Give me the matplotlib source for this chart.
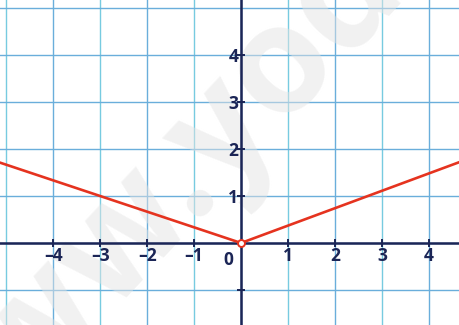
import matplotlib
matplotlib.use("Agg")
import matplotlib.pyplot as plt

# Graph of the piecewise-linear function (V shape through the origin)
x_left = [-5.2, 0.0]
y_left = [1.733, 0.0]
x_right = [0.0, 4.7]
y_right = [0.0, 1.74]

x_ticks = [-4, -3, -2, -1, 1, 2, 3, 4]
x_labels = ["\u20134", "\u20133", "\u20132", "\u20131", "1", "2", "3", "4"]
y_ticks = [-1, 1, 2, 3, 4]
y_labels = ["", "1", "2", "3", "4"]
grid_x = [-5, -4, -3, -2, -1, 0, 1, 2, 3, 4]
grid_y = [-1, 0, 1, 2, 3, 4, 5]

navy = "#1b2556"
red = "#e5331f"
grid_c1 = "#6aaedb"
grid_c2 = "#77cbe0"

fig = plt.figure(figsize=(4.6, 3.25), dpi=100)
ax = fig.add_axes([0, 0, 1, 1])
ax.set_xlim(-5.13, 4.66)
ax.set_ylim(-1.745, 5.17)

# graph-paper grid
for gx in grid_x:
    ax.axvline(gx, color=grid_c1 if gx % 2 == 0 else grid_c2, lw=1.0, zorder=1)
for gy in grid_y:
    ax.axhline(gy, color=grid_c1, lw=1.0, zorder=1)

# axes through the origin
for s in ["top", "right"]:
    ax.spines[s].set_visible(False)
ax.spines["left"].set_position(("data", 0))
ax.spines["bottom"].set_position(("data", 0))
for s in ["left", "bottom"]:
    ax.spines[s].set_color(navy)
    ax.spines[s].set_linewidth(1.8)
    ax.spines[s].set_zorder(3)

ax.set_xticks(x_ticks)
ax.set_xticklabels(x_labels)
ax.set_yticks(y_ticks)
ax.set_yticklabels(y_labels)
font = dict(family="Open Sans", weight="bold", size=12.5)
for lab in ax.get_xticklabels() + ax.get_yticklabels():
    lab.set_fontfamily(font["family"])
    lab.set_fontweight(font["weight"])
    lab.set_fontsize(font["size"])
    lab.set_color(navy)
ax.tick_params(axis="both", direction="inout", length=6, width=1.4, color=navy)
ax.tick_params(axis="x", pad=0)
ax.tick_params(axis="y", pad=-1)
ax.xaxis.set_zorder(3)
ax.yaxis.set_zorder(3)

ax.text(-0.27, -0.17, "0", ha="center", va="top", color=navy, zorder=3, **font)

# faint watermark over the grid paper
ax.text(-6.5, -5.5, "www.yoda.com", rotation=47, rotation_mode="anchor",
        ha="left", va="baseline", fontsize=108, fontweight="bold",
        family="Open Sans", color="#e4e4e4", alpha=0.5, zorder=2)

ax.plot(x_left, y_left, color=red, lw=1.9, zorder=4, solid_capstyle="butt")
ax.plot(x_right, y_right, color=red, lw=1.9, zorder=4, solid_capstyle="butt")
ax.plot([0], [0], marker="o", ms=5, mfc="white", mec=red, mew=1.4, zorder=5)

fig.savefig("out.png", dpi=100)
